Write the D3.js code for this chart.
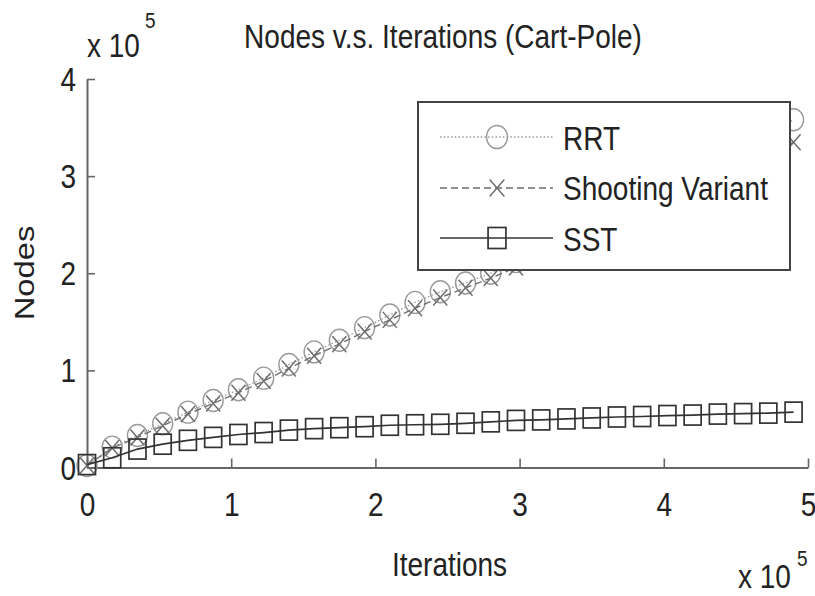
<!DOCTYPE html>
<html>
<head>
<meta charset="utf-8">
<script src="https://cdn.jsdelivr.net/npm/d3@7/dist/d3.min.js"></script>
<style>
  html, body { margin: 0; padding: 0; background: #fff; }
  svg { display: block; }
  text { font-family: "Liberation Sans", Arial, Helvetica, sans-serif; fill: #222; }
</style>
</head>
<body>
<svg id="chart" width="815" height="596"></svg>
<script>
// ---- data (iterations in units of 1e5, nodes in units of 1e5) ----
const iterations = [0, 0.175, 0.35, 0.525, 0.7, 0.875, 1.05, 1.225, 1.4, 1.575, 1.75, 1.925, 2.1, 2.275,
  2.45, 2.625, 2.8, 2.975, 3.15, 3.325, 3.5, 3.675, 3.85, 4.025, 4.2, 4.375, 4.55, 4.725, 4.9];
const rrt = [0.02, 0.21, 0.33, 0.45, 0.57, 0.69, 0.80, 0.92, 1.06, 1.19, 1.31, 1.44, 1.57, 1.70,
  1.81, 1.90, 2.00, 2.12, 2.25, 2.38, 2.51, 2.64, 2.77, 2.91, 3.04, 3.18, 3.31, 3.45, 3.58];
const shooting = [0.02, 0.20, 0.31, 0.43, 0.55, 0.66, 0.77, 0.89, 1.02, 1.15, 1.27, 1.40, 1.52, 1.64,
  1.75, 1.85, 1.95, 2.06, 2.18, 2.29, 2.41, 2.52, 2.64, 2.76, 2.88, 3.00, 3.12, 3.23, 3.35];
const sst = [0.03, 0.10, 0.19, 0.24, 0.28, 0.31, 0.34, 0.36, 0.385, 0.40, 0.41, 0.42, 0.435, 0.44,
  0.445, 0.455, 0.47, 0.485, 0.49, 0.50, 0.51, 0.52, 0.525, 0.535, 0.54, 0.55, 0.555, 0.56, 0.57];
const seriesNames = ["RRT", "Shooting Variant", "SST"];
const xTicks = [0, 1, 2, 3, 4, 5];
const yTicks = [0, 1, 2, 3, 4];
const titleText = "Nodes v.s. Iterations (Cart-Pole)";
const xLabel = "Iterations";
const yLabel = "Nodes";

// ---- layout ----
const svg = d3.select("#chart");
const SY = 1.17;           // vertical stretch of the original image
const FS = 28;
const plotLeft = 87, plotRight = 808, plotTop = 79, plotBottom = 467.5;

const x = d3.scaleLinear().domain([0, 5]).range([plotLeft, plotRight]);
const y = d3.scaleLinear().domain([0, 4]).range([plotBottom, plotTop]);

function stretchedText(g, tx, ty, str, size, anchor) {
  return g.append("text")
    .attr("transform", `translate(${tx},${ty}) scale(1,${SY})`)
    .attr("font-size", size)
    .attr("text-anchor", anchor || "start")
    .text(str);
}

// ---- axes ----
const xAxis = svg.append("g")
  .attr("transform", `translate(0,${plotBottom})`)
  .call(d3.axisBottom(x).tickValues(xTicks).tickFormat(d3.format("d")).tickSize(-9).tickSizeOuter(0));
const yAxis = svg.append("g")
  .attr("transform", `translate(${plotLeft},0)`)
  .call(d3.axisLeft(y).tickValues(yTicks).tickFormat(d3.format("d")).tickSize(-8).tickSizeOuter(0));

[xAxis, yAxis].forEach(a => {
  a.select(".domain").attr("stroke", "#666").attr("stroke-width", 2);
  a.selectAll(".tick line").attr("stroke", "#666").attr("stroke-width", 1.6);
  a.selectAll(".tick text").attr("font-size", FS).attr("fill", "#222")
    .attr("font-family", '"Liberation Sans", Arial, Helvetica, sans-serif');
});
xAxis.selectAll(".tick text")
  .attr("dy", null).attr("y", 0)
  .attr("transform", `translate(0,48.5) scale(1,${SY})`);
yAxis.selectAll(".tick text")
  .attr("dy", null).attr("x", 0).attr("y", 0)
  .attr("text-anchor", "end")
  .attr("transform", `translate(-11,11.5) scale(1,${SY})`);

// ---- series ----
const styles = [
  { color: "#9a9a9a", dash: "1.5,2.2", width: 1.3, marker: "circle" },
  { color: "#6e6e6e", dash: "7,4", width: 1.4, marker: "x" },
  { color: "#333333", dash: null, width: 1.7, marker: "square" }
];
const seriesData = [rrt, shooting, sst];

function drawMarker(g, type, cx, cy, color, scale) {
  const s = scale || 1;
  if (type === "circle") {
    g.append("ellipse").attr("cx", cx).attr("cy", cy).attr("rx", 10 * s).attr("ry", 11 * s)
      .attr("fill", "none").attr("stroke", color).attr("stroke-width", 1.4);
  } else if (type === "x") {
    const w = 7 * s, h = 8 * s;
    g.append("path")
      .attr("d", `M${cx - w},${cy - h}L${cx + w},${cy + h}M${cx - w},${cy + h}L${cx + w},${cy - h}`)
      .attr("fill", "none").attr("stroke", color).attr("stroke-width", 1.5);
  } else {
    const w = 8.5 * s, h = 10 * s;
    g.append("rect").attr("x", cx - w).attr("y", cy - h).attr("width", 2 * w).attr("height", 2 * h)
      .attr("fill", "none").attr("stroke", color).attr("stroke-width", 1.7);
  }
}

const line = d3.line().x(d => x(d[0])).y(d => y(d[1]));
seriesData.forEach((vals, k) => {
  const st = styles[k];
  const pts = iterations.map((it, i) => [it, vals[i]]);
  const g = svg.append("g");
  g.append("path").datum(pts).attr("d", line)
    .attr("fill", "none").attr("stroke", st.color).attr("stroke-width", st.width)
    .attr("stroke-dasharray", st.dash);
  pts.forEach(p => drawMarker(g, st.marker, x(p[0]), y(p[1]), st.color, 1));
});

// ---- legend ----
const lg = svg.append("g");
lg.append("rect").attr("x", 418).attr("y", 102).attr("width", 372).attr("height", 168)
  .attr("fill", "#fff").attr("stroke", "#444").attr("stroke-width", 2);
const legendY = [137, 188, 238];
const legendBase = [150, 200, 251];
seriesNames.forEach((name, k) => {
  const st = styles[k];
  lg.append("line").attr("x1", 440).attr("x2", 553).attr("y1", legendY[k]).attr("y2", legendY[k])
    .attr("stroke", st.color).attr("stroke-width", st.width).attr("stroke-dasharray", st.dash);
  drawMarker(lg, st.marker, 497, legendY[k], st.color, 1.05);
  stretchedText(lg, 563, legendBase[k], name, FS, "start");
});

// ---- titles & labels ----
stretchedText(svg, 443, 48, titleText, FS, "middle");
stretchedText(svg, 449.5, 576, xLabel, FS, "middle");
svg.append("text")
  .attr("transform", `translate(34,273) scale(1,${SY}) rotate(-90)`)
  .attr("font-size", FS).attr("text-anchor", "middle").text(yLabel);

// exponent labels
stretchedText(svg, 87, 57, "x 10", FS, "start");
stretchedText(svg, 145, 28, "5", 19, "start");
stretchedText(svg, 738, 588, "x 10", FS, "start");
stretchedText(svg, 797, 566, "5", 19, "start");
</script>
</body>
</html>
